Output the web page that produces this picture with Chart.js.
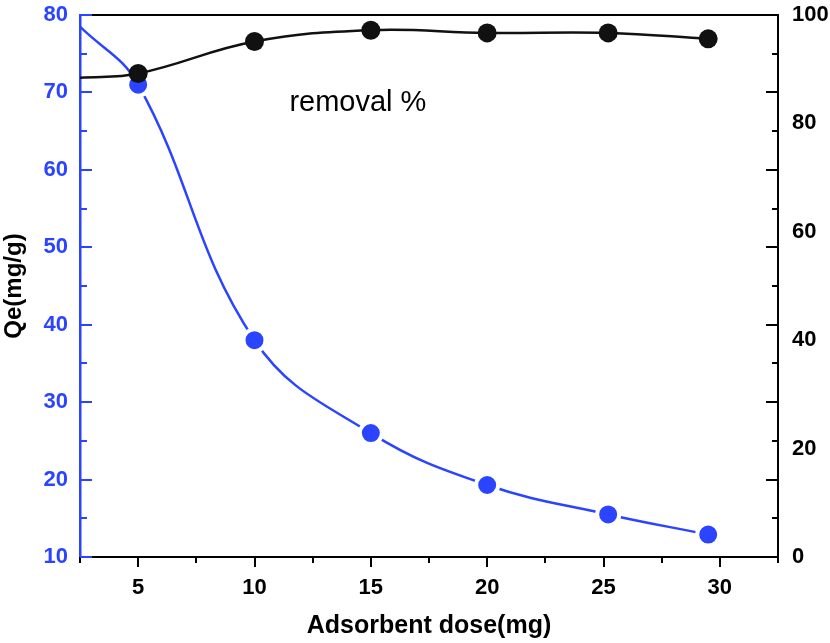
<!DOCTYPE html>
<html>
<head>
<meta charset="utf-8">
<script src="https://cdn.jsdelivr.net/npm/chart.js@4.4.1/dist/chart.umd.min.js"></script>
<style>
  html, body { margin: 0; padding: 0; background: #fff; }
  #wrap { width: 830px; height: 643px; position: relative; }
</style>
</head>
<body>
<div id="wrap"><canvas id="doseChart"></canvas></div>
<script>
// measured points
const dose = [5, 10, 15, 20, 25.2, 29.5];
const qe = [71.0, 38.0, 26.0, 19.3, 15.5, 12.9];
const removal = [89.2, 95.1, 97.2, 96.7, 96.7, 95.6];

// fitted curves start at the left edge of the frame
const curveStartDose = 2.5;
const qeCurveStart = 78.5;
const removalCurveStart = 88.4;

// axis ticks
const doseTicks = [5, 10, 15, 20, 25, 30];
const qeTicks = [10, 20, 30, 40, 50, 60, 70, 80];
const removalTicks = [0, 20, 40, 60, 80, 100];

const BLUE = '#2a44ff';
const FONT = "'Liberation Sans', Arial, sans-serif";

function withStart(startX, startY, xs, ys) {
    const pts = [{ x: startX, y: startY }];
    xs.forEach((x, i) => pts.push({ x: x, y: ys[i] }));
    return pts;
}

// Origin-style frame: inward ticks on both y axes, outward on x, top line
const frameTicks = {
    id: 'frameTicks',
    afterDraw(chart) {
        const c = chart.ctx;
        const area = chart.chartArea;
        const xs = chart.scales.x;
        const yl = chart.scales.y;
        c.save();
        c.lineWidth = 2;

        // top border
        c.strokeStyle = '#000';
        c.beginPath();
        c.moveTo(area.left, area.top);
        c.lineTo(area.right, area.top);
        c.stroke();

        // x ticks (downward)
        for (let v = 2.5; v <= 32.5; v += 2.5) {
            const px = Math.round(xs.getPixelForValue(v));
            const len = v % 5 === 0 ? 10 : 6;
            c.beginPath();
            c.moveTo(px, area.bottom);
            c.lineTo(px, area.bottom + len);
            c.stroke();
        }

        // right axis ticks mirror the left scale
        for (let v = 10; v <= 80; v += 5) {
            const py = Math.round(yl.getPixelForValue(v));
            const len = v % 10 === 0 ? 12 : 6;
            c.beginPath();
            c.moveTo(area.right, py);
            c.lineTo(area.right - len, py);
            c.stroke();
        }

        // left axis ticks (blue, inward)
        c.strokeStyle = BLUE;
        for (let v = 10; v <= 80; v += 5) {
            const py = Math.round(yl.getPixelForValue(v));
            const len = v % 10 === 0 ? 12 : 7;
            c.beginPath();
            c.moveTo(area.left, py);
            c.lineTo(area.left + len, py);
            c.stroke();
        }

        // series label
        c.fillStyle = '#000';
        c.font = '29px ' + FONT;
        c.textAlign = 'left';
        c.textBaseline = 'alphabetic';
        c.fillText('removal %', xs.getPixelForValue(11.5), yl.getPixelForValue(67.6));
        c.restore();
    }
};

const ctx = document.getElementById('doseChart').getContext('2d');

new Chart(ctx, {
    type: 'line',
    data: {
        datasets: [
            {
                label: 'removal %',
                data: withStart(curveStartDose, removalCurveStart, dose, removal),
                yAxisID: 'y1',
                borderColor: '#111',
                backgroundColor: '#111',
                borderWidth: 2.5,
                tension: 0.4,
                pointRadius: c => c.dataIndex === 0 ? 0 : 9.5,
                pointBorderWidth: 0,
                pointHoverRadius: 0
            },
            {
                label: 'Qe',
                data: withStart(curveStartDose, qeCurveStart, dose, qe),
                yAxisID: 'y',
                borderColor: BLUE,
                backgroundColor: BLUE,
                borderWidth: 2.5,
                tension: 0.4,
                pointRadius: c => c.dataIndex === 0 ? 0 : 11,
                pointBorderWidth: 4,
                pointBorderColor: '#fff',
                pointHoverRadius: 0
            }
        ]
    },
    options: {
        responsive: true,
        maintainAspectRatio: false,
        animation: false,
        layout: { padding: { top: 10, left: 0, right: 0, bottom: 0 } },
        plugins: {
            legend: { display: false },
            tooltip: { enabled: false }
        },
        scales: {
            x: {
                type: 'linear',
                min: 2.5,
                max: 32.5,
                afterBuildTicks: s => { s.ticks = doseTicks.map(v => ({ value: v })); },
                afterFit: s => { s.height = 86; s.paddingLeft = 0; s.paddingRight = 0; },
                grid: { display: false, drawTicks: false },
                border: { color: '#000', width: 2 },
                ticks: {
                    color: '#000',
                    padding: 18,
                    maxRotation: 0,
                    font: { family: FONT, size: 22, weight: 'bold' }
                },
                title: {
                    display: true,
                    text: 'Adsorbent dose(mg)',
                    color: '#000',
                    padding: { top: 0, bottom: 2 },
                    font: { family: FONT, size: 25, weight: 'bold' }
                }
            },
            y: {
                position: 'left',
                min: 10,
                max: 80,
                afterBuildTicks: s => { s.ticks = qeTicks.map(v => ({ value: v })); },
                afterFit: s => { s.width = 80; s.paddingTop = 0; s.paddingBottom = 0; },
                grid: { display: false, drawTicks: false },
                border: { color: BLUE, width: 2.5 },
                ticks: {
                    color: BLUE,
                    padding: 12,
                    font: { family: FONT, size: 22, weight: 'bold' }
                },
                title: {
                    display: true,
                    text: 'Qe(mg/g)',
                    color: '#000',
                    padding: { top: 0, bottom: 0 },
                    font: { family: FONT, size: 24, weight: 'bold' }
                }
            },
            y1: {
                position: 'right',
                min: 0,
                max: 100,
                afterBuildTicks: s => { s.ticks = removalTicks.map(v => ({ value: v })); },
                afterFit: s => { s.width = 52; s.paddingTop = 0; s.paddingBottom = 0; },
                grid: { display: false, drawTicks: false },
                border: { color: '#000', width: 2 },
                ticks: {
                    color: '#000',
                    padding: 14,
                    font: { family: FONT, size: 22, weight: 'bold' }
                }
            }
        }
    },
    plugins: [frameTicks]
});
</script>
</body>
</html>
